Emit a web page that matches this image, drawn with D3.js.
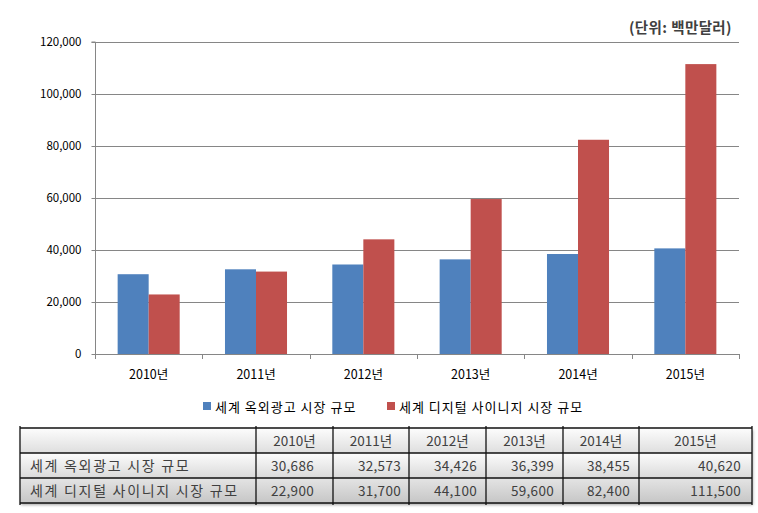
<!DOCTYPE html>
<html><head><meta charset="utf-8">
<script src="https://cdn.jsdelivr.net/npm/d3@7"></script>
<style>body{margin:0;background:#fff}svg{display:block}</style>
</head><body>
<svg id="c" width="758" height="513"></svg>
<script>
const categories = ["2010년","2011년","2012년","2013년","2014년","2015년"];
const seriesNames = ["세계 옥외광고 시장 규모","세계 디지털 사이니지 시장 규모"];
const outdoor = [30686,32573,34426,36399,38455,40620];
const signage = [22900,31700,44100,59600,82400,111500];
const yTicks = [0,20000,40000,60000,80000,100000,120000];
const colors = ["#4F81BD","#C0504D"];
const unitLabel = "(단위: 백만달러)";

const svg = d3.select("#c");
const font = "'Noto Sans CJK KR','Noto Sans',sans-serif";
const L=95, R=739, T=42, B=354;
const x = d3.scaleBand().domain(categories).range([L,R]).padding(0);
const xi = d3.scaleBand().domain([0,1]).range([0,x.bandwidth()]).paddingInner(0).paddingOuter(0.73);
const y = d3.scaleLinear().domain([0,120000]).range([B,T]);

// gridlines
svg.append("g").selectAll("line").data(yTicks.filter(d=>d>0)).join("line")
  .attr("x1",L).attr("x2",R).attr("y1",d=>Math.round(y(d))+0.5).attr("y2",d=>Math.round(y(d))+0.5)
  .attr("stroke","#868686").attr("stroke-width",1);

// bars
const series=[outdoor,signage];
series.forEach((s,si)=>{
  svg.append("g").selectAll("rect").data(s).join("rect")
    .attr("x",(d,i)=>x(categories[i])+xi(si))
    .attr("width",xi.bandwidth())
    .attr("y",d=>y(d)).attr("height",d=>B-y(d))
    .attr("fill",colors[si]);
});

// y axis
const ya = svg.append("g").attr("transform",`translate(${L+0.5},0)`)
  .call(d3.axisLeft(y).tickValues(yTicks).tickFormat(d3.format(",")).tickSize(4).tickPadding(10));
ya.select(".domain").attr("stroke","#868686").attr("d",`M-4,${T}H0V${B}`);
ya.selectAll(".tick line").attr("stroke","#868686");
ya.selectAll("text").attr("font-family",font).attr("font-size",11.5).attr("fill","#000");

// x axis
const xa = svg.append("g").attr("transform",`translate(0,${B+0.5})`)
  .call(d3.axisBottom(x).tickSize(0).tickPadding(16));
xa.select(".domain").attr("stroke","#868686").attr("d",`M${L},0H${R}`);
xa.selectAll("text").attr("font-family",font).attr("font-size",12.5).attr("fill","#000");
svg.append("g").selectAll("line").data(d3.range(categories.length+1)).join("line")
  .attr("x1",i=>Math.round(L+i*x.step())+0.5).attr("x2",i=>Math.round(L+i*x.step())+0.5)
  .attr("y1",B).attr("y2",B+5).attr("stroke","#868686");

// unit label
svg.append("text").attr("x",732).attr("y",33).attr("text-anchor","end")
  .attr("font-family",font).attr("font-size",14.5).attr("font-weight","bold").attr("letter-spacing",0.4).attr("fill","#404040").text(unitLabel);

// legend
const legX=[203,387];
seriesNames.forEach((n,i)=>{
  svg.append("rect").attr("x",legX[i]).attr("y",402).attr("width",8).attr("height",8).attr("fill",colors[i]);
  svg.append("text").attr("x",legX[i]+12).attr("y",411.5).attr("font-family",font).attr("font-size",13).attr("letter-spacing",1).attr("fill","#000").text(n);
});

// table
const defs = svg.append("defs");
const grads=[["g0","#fdfdfd","#dedede"],["g1","#fcfcfc","#dadada"],["g2","#e4e4e4","#c6c6c6"]];
grads.forEach(([id,a,b])=>{
  const g=defs.append("linearGradient").attr("id",id).attr("x1",0).attr("x2",0).attr("y1",0).attr("y2",1);
  g.append("stop").attr("offset","0%").attr("stop-color",a);
  g.append("stop").attr("offset","100%").attr("stop-color",b);
});
const sh=defs.append("filter").attr("id","sh").attr("x","-5%").attr("y","-5%").attr("width","110%").attr("height","130%");
sh.append("feDropShadow").attr("dx",1).attr("dy",2).attr("stdDeviation",1.5).attr("flood-color","#000").attr("flood-opacity",0.35);

const colX=[20,256,333,409,486,563,639,752];
const padR=[0,19,8,9,9,9,11];
const rowY=[428,453,478,503];
svg.append("rect").attr("x",20).attr("y",428).attr("width",732).attr("height",75).attr("fill","#fff").attr("filter","url(#sh)");
const rows=[["",...categories],[seriesNames[0],...outdoor.map(d3.format(","))],[seriesNames[1],...signage.map(d3.format(","))]];
rows.forEach((r,ri)=>{
  r.forEach((c,ci)=>{
    svg.append("rect").attr("x",colX[ci]).attr("y",rowY[ri]).attr("width",colX[ci+1]-colX[ci]).attr("height",rowY[ri+1]-rowY[ri]).attr("fill",`url(#g${ri})`);
    const t=svg.append("text").attr("font-family",font).attr("fill","#404040").text(c)
      .attr("y",rowY[ri]+18);
    if(ci===0){t.attr("x",colX[0]+10).attr("font-size",14).attr("letter-spacing",1.7);}
    else if(ri===0){t.attr("x",(colX[ci]+colX[ci+1])/2).attr("text-anchor","middle").attr("font-size",13.5);}
    else {t.attr("x",colX[ci+1]-padR[ci]).attr("text-anchor","end").attr("font-size",13.5).attr("letter-spacing",0.3);}
  });
});
svg.append("g").selectAll("line").data(rowY).join("line").attr("x1",20).attr("x2",752).attr("y1",d=>d).attr("y2",d=>d).attr("stroke","#111").attr("stroke-width",1.3);
svg.append("g").selectAll("line").data(colX).join("line").attr("y1",426).attr("y2",505).attr("x1",d=>d).attr("x2",d=>d).attr("stroke","#111").attr("stroke-width",1.3);
</script>
</body></html>
